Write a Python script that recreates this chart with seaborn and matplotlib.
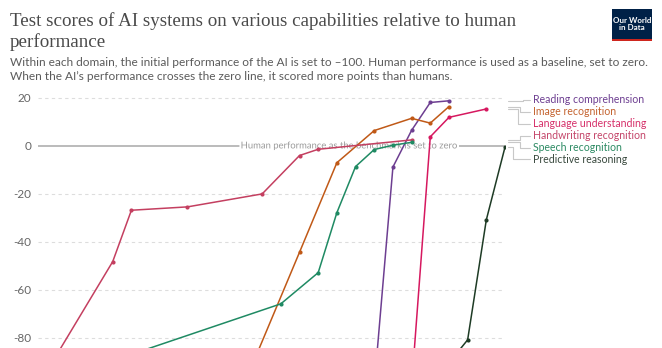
import numpy as np
import pandas as pd
import matplotlib
matplotlib.use("Agg")
import matplotlib.pyplot as plt
import seaborn as sns
from matplotlib import patheffects as pe
from matplotlib.patches import Rectangle
from matplotlib.transforms import blended_transform_factory

# ---------------- data ----------------
domains = ["Reading comprehension", "Image recognition", "Language understanding",
           "Handwriting recognition", "Speech recognition", "Predictive reasoning"]

reading_years = [2016, 2017, 2018, 2019, 2020]
reading_vals = [-100, -8.8, 6.5, 18.1, 18.8]
image_years = [2009, 2012, 2014, 2016, 2018, 2019, 2020]
image_vals = [-100, -44.3, -7.0, 6.4, 11.5, 9.5, 16.4]
language_years = [2018, 2019, 2020, 2022]
language_vals = [-100, 3.8, 11.9, 15.4]
handwriting_years = [1998, 2002, 2003, 2006, 2010, 2012, 2013, 2018]
handwriting_vals = [-100, -48.2, -26.8, -25.4, -20.0, -4.0, -1.4, 2.5]
speech_years = [1998, 2011, 2013, 2014, 2015, 2016, 2017, 2018]
speech_vals = [-100, -65.8, -52.8, -27.8, -8.6, -1.5, 0.3, 1.5]
predictive_years = [2019, 2021, 2022, 2023]
predictive_vals = [-100, -80.8, -30.8, -0.5]

yticks = [-80, -60, -40, -20, 0, 20]
ytick_labels = ["-80", "-60", "-40", "-20", "0", "20"]

colors = {
    "Reading comprehension": "#6D3E91",
    "Image recognition": "#C05917",
    "Language understanding": "#D6185F",
    "Handwriting recognition": "#C43F60",
    "Speech recognition": "#1F8A63",
    "Predictive reasoning": "#1E3B25",
}
label_colors = {
    "Reading comprehension": "#6D3E91",
    "Image recognition": "#C4632F",
    "Language understanding": "#D6306A",
    "Handwriting recognition": "#C4466A",
    "Speech recognition": "#2C8A63",
    "Predictive reasoning": "#3A4A3F",
}
# label vertical layout positions (data units)
label_y = [19.3, 14.3, 9.3, 4.2, -0.7, -5.5]
elbow_px = [523, 520, 518, 520, 520, 513]

series = [(reading_years, reading_vals), (image_years, image_vals),
          (language_years, language_vals), (handwriting_years, handwriting_vals),
          (speech_years, speech_vals), (predictive_years, predictive_vals)]

rows = []
for name, (yrs, vals) in zip(domains, series):
    for yr, v in zip(yrs, vals):
        rows.append({"year": yr, "value": v, "domain": name})
df = pd.DataFrame(rows)

# ---------------- figure ----------------
sns.set_style("white")
plt.rcParams["font.family"] = ["Lato", "DejaVu Sans"]

W, H = 662, 348
fig = plt.figure(figsize=(W / 100, H / 100), dpi=100)
ax_left, ax_right = 38, 505
ymin, ymax = -84.2, 20.5
ax_h_px = (ymax - ymin) * 2.4
ax = fig.add_axes([ax_left / W, 0, (ax_right - ax_left) / W, ax_h_px / H])

sns.lineplot(data=df, x="year", y="value", hue="domain", hue_order=domains,
             palette=colors, marker="o", markersize=3, markeredgewidth=0,
             linewidth=1.1, legend=False, ax=ax, sort=False, zorder=5)

ax.set_xlim(1998, 2023)
ax.set_ylim(ymin, ymax)
for s in ax.spines.values():
    s.set_visible(False)
ax.set_xticks([])
ax.set_xlabel("")
ax.set_ylabel("")
ax.set_yticks(yticks)
ax.set_yticklabels(ytick_labels)
ax.tick_params(axis="y", length=0, pad=5, labelsize=8.5, labelcolor="#666666")

for t in yticks:
    if t == 0:
        ax.axhline(0, color="#a8a8a8", lw=1.1, zorder=1)
    else:
        ax.axhline(t, color="#dddddd", lw=0.8, ls=(0, (3, 3)), zorder=0)

ax.text(2014.65, 0, "Human performance as the benchmark is set to zero",
        ha="center", va="center", fontsize=6.8, color="#9a9a9a", zorder=3,
        path_effects=[pe.withStroke(linewidth=3, foreground="white")])

# end labels with elbow connectors
axw = ax_right - ax_left
def ax_x(px):
    return (px - ax_left) / axw
trans = blended_transform_factory(ax.transAxes, ax.transData)
for name, (yrs, vals), ly, ex in zip(domains, series, label_y, elbow_px):
    y_end = vals[-1]
    ax.plot([ax_x(508), ax_x(ex), ax_x(ex), ax_x(530)], [y_end, y_end, ly, ly],
            transform=trans, color="#c8c8c8", lw=0.8, clip_on=False, zorder=2)
    ax.text(ax_x(533), ly, name, transform=trans, ha="left", va="center",
            fontsize=7.6, color=label_colors[name], clip_on=False)

# ---------------- header ----------------
title_font = ["Liberation Serif", "DejaVu Serif"]
fig.text(10 / W, 1 - 26 / H, "Test scores of AI systems on various capabilities relative to human",
         fontsize=13.7, family=title_font, color="#4a4a4a", va="baseline")
fig.text(10 / W, 1 - 47 / H, "performance",
         fontsize=13.7, family=title_font, color="#4a4a4a", va="baseline")
fig.text(10 / W, 1 - 66 / H,
         "Within each domain, the initial performance of the AI is set to \u2013100. Human performance is used as a baseline, set to zero.",
         fontsize=8.6, color="#5b5b5b", va="baseline")
fig.text(10 / W, 1 - 80 / H,
         "When the AI\u2019s performance crosses the zero line, it scored more points than humans.",
         fontsize=8.6, color="#5b5b5b", va="baseline")

# logo
lx0, lx1, ly0, ly1 = 612, 652, 9, 41
fig.add_artist(Rectangle((lx0 / W, 1 - ly1 / H), (lx1 - lx0) / W, (ly1 - ly0) / H,
                         transform=fig.transFigure, facecolor="#002147", edgecolor="none"))
fig.add_artist(Rectangle((lx0 / W, 1 - ly1 / H), (lx1 - lx0) / W, 2 / H,
                         transform=fig.transFigure, facecolor="#CE261E", edgecolor="none"))
fig.text((lx0 + lx1) / 2 / W, 1 - 24 / H, "Our World\nin Data", ha="center", va="center",
         fontsize=5.8, fontweight="bold", color="white", linespacing=1.0)

fig.savefig("out.png", dpi=100)
